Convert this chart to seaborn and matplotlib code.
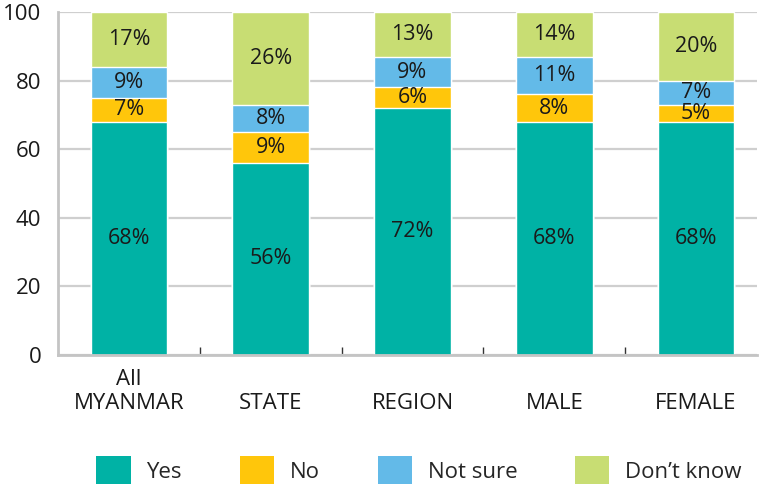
import numpy as np
import pandas as pd
import matplotlib
matplotlib.use("Agg")
import matplotlib.pyplot as plt
from matplotlib.patches import Patch
from matplotlib.ticker import FixedLocator
import seaborn as sns

# data (percent of respondents)
categories = ["All\nMYANMAR", "STATE", "REGION", "MALE", "FEMALE"]
yes = [68, 56, 72, 68, 68]
no = [7, 9, 6, 8, 5]
not_sure = [9, 8, 9, 11, 7]
dont_know = [17, 26, 13, 14, 20]
series_names = ["Yes", "No", "Not sure", "Don\u2019t know"]
colors = ["#00B2A5", "#FFC60B", "#63BAE8", "#C8DD73"]
yticks = [0, 20, 40, 60, 80, 100]

sns.set_theme(style="white")
plt.rcParams["font.family"] = ["Open Sans", "DejaVu Sans"]

# display labels: single-line names sit on the second line like "MYANMAR"
labels = [c if "\n" in c else "\n" + c for c in categories]
df = pd.DataFrame({"cat": labels, "Yes": yes, "No": no,
                   "Not sure": not_sure, "Don\u2019t know": dont_know})

# cumulative tops; last segment fills up to 100 like the original
cum = df[series_names[:3]].cumsum(axis=1)
cum["Don\u2019t know"] = 100
bottoms = cum.shift(1, axis=1).fillna(0)

fig = plt.figure(figsize=(7.59, 4.90), dpi=100)
ax = fig.add_axes([0.0764, 0.2755, 0.921, 0.70])

# overlap bars from tallest to shortest to get the stack
for name, col in reversed(list(zip(series_names, colors))):
    sns.barplot(data=cum.assign(cat=df["cat"]), x="cat", y=name, color=col,
                width=0.54, saturation=1, ax=ax, zorder=2)

# segment labels
vals = df[series_names]
for i in range(len(df)):
    for name in series_names:
        mid = (bottoms.loc[i, name] + cum.loc[i, name]) / 2
        ax.text(i, mid, f"{vals.loc[i, name]}%", ha="center", va="center",
                fontsize=15.5, color="#1a1a1a", zorder=3)

ax.set_ylim(0, 100)
ax.set_xlim(-0.5, 4.43)
ax.set_yticks(yticks)
ax.set_xlabel("")
ax.set_ylabel("")
ax.yaxis.grid(True, color="#cfcfcf", linewidth=1.6, zorder=0)
ax.set_axisbelow(True)
for s in ["top", "right"]:
    ax.spines[s].set_visible(False)
for s in ["left", "bottom"]:
    ax.spines[s].set_color("#c4c4c4")
    ax.spines[s].set_linewidth(2)

ax.tick_params(axis="y", length=0, pad=12, labelsize=16, labelcolor="#1a1a1a")
ax.tick_params(axis="x", which="major", length=0, pad=10, labelsize=16,
               labelcolor="#1a1a1a")
for t in ax.get_xticklabels():
    t.set_linespacing(1.2)
ax.xaxis.set_minor_locator(FixedLocator(np.arange(0.5, 4, 1)))
ax.tick_params(axis="x", which="minor", direction="in", length=6, width=1,
               color="#333333", bottom=True)

handles = [Patch(facecolor=c, edgecolor="none", label=n)
           for n, c in zip(series_names, colors)]
fig.legend(handles=handles, loc="center", bbox_to_anchor=(0.552, 0.04),
           ncol=4, frameon=False, fontsize=16, handlelength=1.55,
           handleheight=1.55, handletextpad=0.7, columnspacing=2.6)

fig.savefig("out.png", dpi=100)
